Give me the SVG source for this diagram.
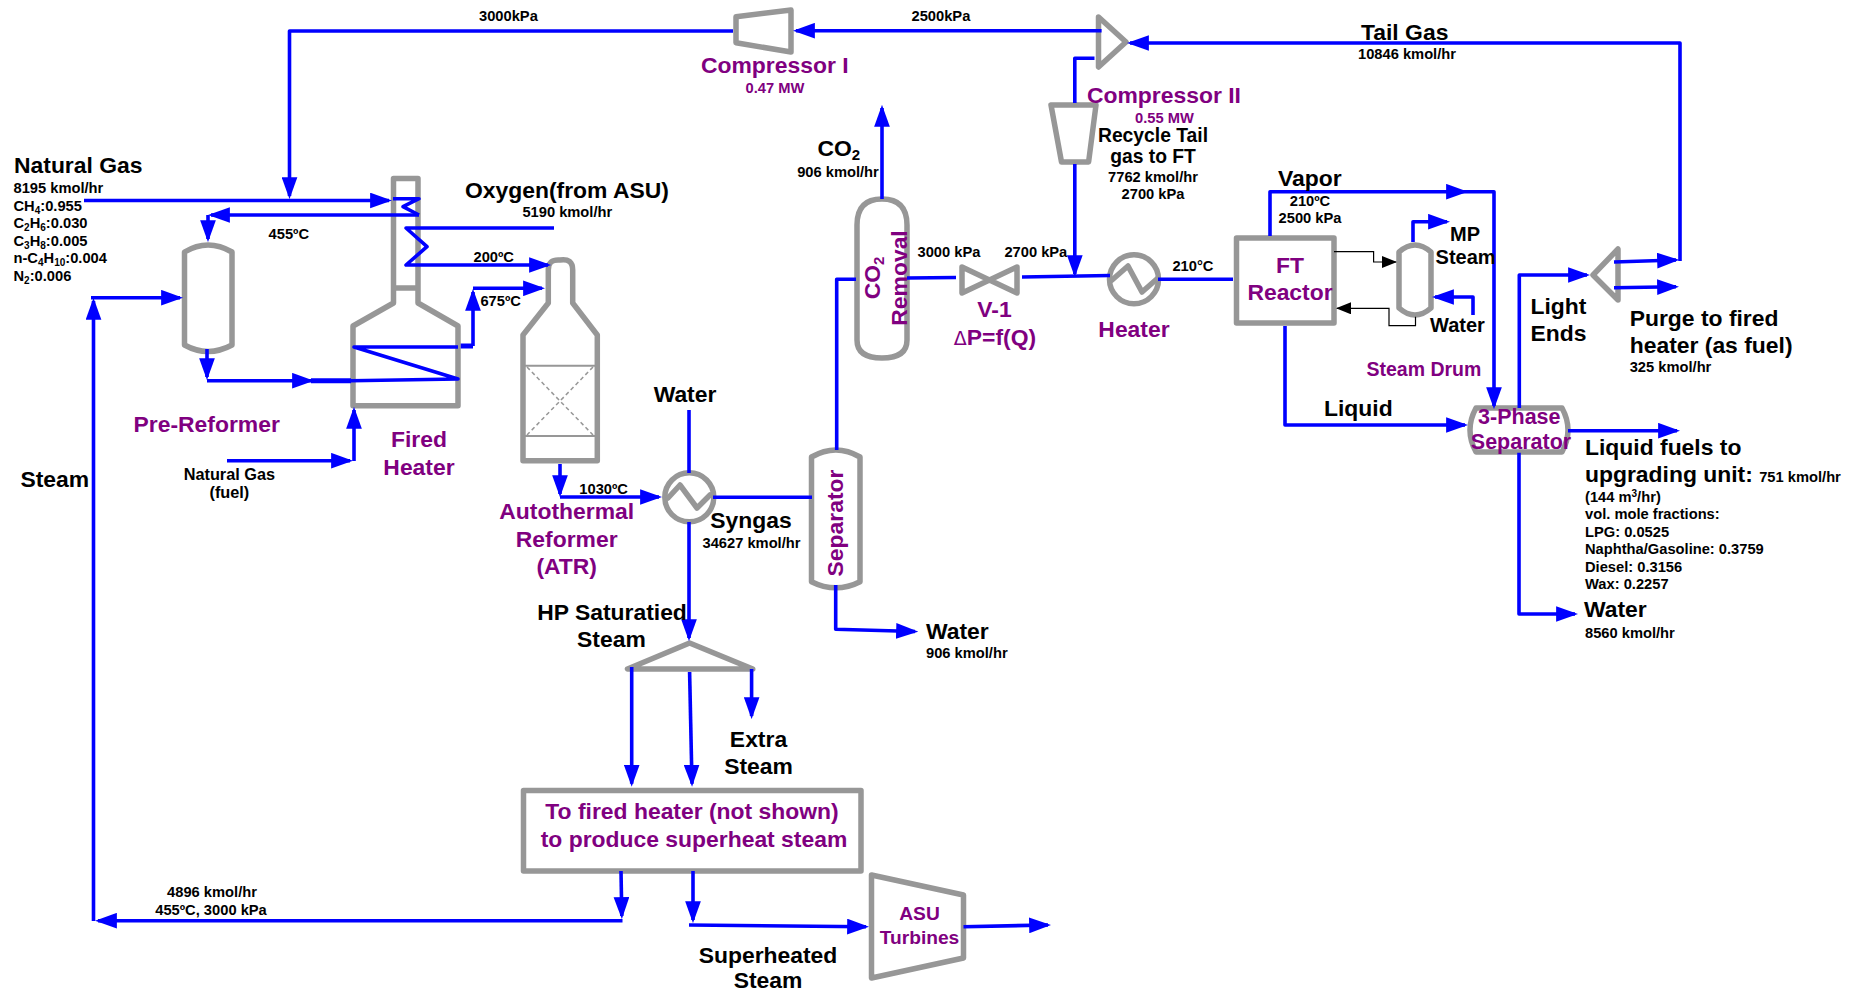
<svg xmlns="http://www.w3.org/2000/svg" width="1856" height="992" viewBox="0 0 1856 992">
<style>
text{font-family:"Liberation Sans",Arial,sans-serif;font-weight:700;fill:#000}
.b{font-size:22.9px}.s{font-size:14.7px}.m{font-size:16.3px}.r{font-size:19.3px}
.p{fill:#800080}.c{text-anchor:middle}
.e{fill:none;stroke:#979797;stroke-width:5.5;stroke-linejoin:round;stroke-linecap:round}
.t{fill:none;stroke:#979797;stroke-width:2}
.d{fill:none;stroke:#979797;stroke-width:1.5;stroke-dasharray:4 3}
.l{fill:none;stroke:#00f;stroke-width:3.6;stroke-linejoin:round}
.a{marker-end:url(#h)}
.k{fill:none;stroke:#000;stroke-width:1.2;marker-end:url(#hk)}
</style>
<defs>
<marker id="h" markerUnits="userSpaceOnUse" markerWidth="22" markerHeight="16" viewBox="0 0 21 15" refX="18" refY="7.5" orient="auto"><path d="M0,0L21,7.5L0,15Z" fill="#00f"/></marker>
<marker id="hk" markerUnits="userSpaceOnUse" markerWidth="15" markerHeight="12" viewBox="0 0 15 12" refX="14" refY="6" orient="auto"><path d="M0,0L15,6L0,12Z" fill="#000"/></marker>
</defs>
<rect width="1856" height="992" fill="#fff"/>

<g id="compressor-1"><path class="e" d="M736,16.7L791,10V52L736,42.7Z"/><text class="b p" x="701" y="72.7">Compressor I</text><text class="s p c" x="775" y="92.7">0.47 MW</text></g>
<g id="mixer"><path class="e" d="M1098.5,17L1126,42L1098.5,67Z"/></g>
<g id="compressor-2"><path class="e" d="M1051,105H1096L1088.6,162H1061.5Z"/><text class="b p" x="1087" y="103.3">Compressor II</text><text class="s p c" x="1164.5" y="123.3">0.55 MW</text></g>
<g id="pre-reformer"><path class="e" d="M184.500,252Q208,238 232,252V345Q208,358 184.500,345Z"/><text class="b p" x="133.500" y="431.700">Pre-Reformer</text></g>
<g id="fired-heater"><path class="e" d="M393.500,288V178.500H418V288ZM393.500,288V303L353,326V405.700H458V326L418,303V288"/><text class="b p c" x="419" y="447">Fired</text><text class="b p c" x="419" y="475">Heater</text></g>
<g id="atr"><path class="e" d="M548.300,303V270Q548,259 560,260Q572.700,258 572.700,270V303L597.300,335V460.700H523V335Z"/><path class="t" d="M525,365.700H595M525,436H595"/><path class="d" d="M527,367L593,435M593,367L527,435"/><text class="b p c" x="566.700" y="519">Autothermal</text><text class="b p c" x="566.700" y="546.700">Reformer</text><text class="b p c" x="566.700" y="574">(ATR)</text></g>
<g id="quench-exchanger"><circle class="e" cx="689.300" cy="497.300" r="24.500"/><path class="e" d="M668,498L680,485L697,508L710,495"/></g>
<g id="separator"><path class="e" d="M811.500,457Q836,443 860,457V581.700Q836,594 811.500,581.700Z"/><text class="b p c" transform="translate(843,523) rotate(-90)">Separator</text></g>
<g id="co2-removal"><path class="e" d="M857,225Q857,199 882,199Q907,199 907,225V340Q907,358 882,358Q857,358 857,340Z"/><text class="b p c" transform="translate(880,278) rotate(-90)">CO<tspan font-size="15" dy="4">2</tspan></text><text class="b p c" transform="translate(907,278) rotate(-90)">Removal</text></g>
<g id="valve"><path class="e" d="M962,267L1017,293V267L962,293Z"/><text class="b p c" x="994.500" y="316.700">V-1</text><text class="b p c" x="995" y="345"><tspan font-family="'DejaVu Sans',sans-serif" font-weight="400" font-size="19">Δ</tspan>P=f(Q)</text></g>
<g id="heater"><circle class="e" cx="1134" cy="279.300" r="24.500"/><path class="e" d="M1112,280L1128,266L1142,292L1158,278"/><text class="b p c" x="1134" y="336.700">Heater</text></g>
<g id="ft-reactor"><rect class="e" x="1236.500" y="238" width="97.500" height="85"/><text class="b p c" x="1290" y="273.300">FT</text><text class="b p c" x="1290" y="300">Reactor</text></g>
<g id="steam-drum"><path class="e" d="M1399,252Q1415,238 1431,252V308Q1415,322 1399,308Z"/><text class="p" font-size="19.500" x="1366.500" y="376">Steam Drum</text></g>
<g id="three-phase"><path class="e" d="M1476,408H1562Q1574,430 1562,452H1476Q1464,430 1476,408Z"/><text class="p c" font-size="21.500" x="1519.300" y="424">3-Phase</text><text class="p c" font-size="21.500" x="1521" y="449.300">Separator</text></g>
<g id="splitter-top"><path class="e" d="M1593,275L1618,249V300Z"/></g>
<g id="splitter-bottom"><path class="e" d="M689.600,643L627.500,669H752.800Z"/></g>
<g id="steam-box"><rect class="e" x="523.500" y="790.500" width="337.500" height="80.500"/><text class="b p c" x="692" y="819">To fired heater (not shown)</text><text class="b p c" x="694" y="847.300">to produce superheat steam</text></g>
<g id="asu-turbines"><path class="e" d="M871.500,875L963.500,895V958L871.500,978Z"/><text class="p c" font-size="19.200" x="919.500" y="920">ASU</text><text class="p c" font-size="19.200" x="919.500" y="944">Turbines</text></g>

<g id="connectors">
<path class="l a" d="M733,31H289.500V196"/>
<path class="l a" d="M84,200.500H389"/>
<path class="l" d="M393,198.700H419L403,206.700L419,215"/>
<path class="l a" d="M419,215H211"/>
<path class="l a" d="M208,215V239"/>
<path class="l a" d="M554,228H406L427,246.700L406,265H548"/>
<path class="l a" d="M622.500,920.700H98"/>
<path class="l a" d="M93.500,921V301"/>
<path class="l a" d="M91,297.700H180"/>
<path class="l a" d="M207,349V377"/>
<path class="l a" d="M207,380.700H311"/>
<path class="l" style="stroke-width:5" d="M311,380.700H351"/>
<path class="l" d="M351,380.700L458,379L354,347H458"/>
<path class="l" style="stroke-width:5" d="M460.700,346H473"/>
<path class="l a" d="M473,346V292"/>
<path class="l a" d="M473,288.300H542"/>
<path class="l a" d="M227,460.700H350"/>
<path class="l a" d="M354,461V410"/>
<path class="l a" d="M560,464V494"/>
<path class="l a" d="M560,497H659"/>
<path class="l" d="M689,410V473"/>
<path class="l a" d="M689,522V638"/>
<path class="l" d="M713,497.300H812"/>
<path class="l" d="M836.700,450V279.300H856"/>
<path class="l a" d="M835.700,585V629.300L915,631.500"/>
<path class="l a" d="M882,199V108"/>
<path class="l" d="M907,278L956,277.500"/>
<path class="l" d="M1022,277L1110,275.500"/>
<path class="l a" d="M1101.600,30.700H796"/>
<path class="l" d="M1094.500,58.300H1074.800V103"/>
<path class="l a" d="M1074.800,164V274"/>
<path class="l" d="M1158,279.300H1233"/>
<path class="l a" d="M1614,262L1676,260"/>
<path class="l a" d="M1680,261V43H1130"/>
<path class="l a" d="M1614,287.700L1676,286.800"/>
<path class="l a" d="M1519.300,408V275H1587"/>
<path class="l a" d="M1568,430.700H1677"/>
<path class="l a" d="M1519,452.700V614H1575"/>
<path class="l a" d="M1270,236V191.700H1465"/>
<path class="l a" d="M1465,191.700H1494V406"/>
<path class="l a" d="M1285,326V425H1465"/>
<path class="l a" d="M1413,242V221.700H1447"/>
<path class="l a" d="M1473,315V297H1435"/>
<path class="k" d="M1334,251.700H1373.600V262H1396"/>
<path class="k" d="M1415.500,316.700V325.700H1389V308.300H1337"/>
<path class="l a" d="M631.700,667V783.700"/>
<path class="l a" d="M689.600,672L692,783.700"/>
<path class="l a" d="M751.600,669V716"/>
<path class="l a" d="M621,871L621.800,916"/>
<path class="l a" d="M693,871V920"/>
<path class="l a" d="M689,925L866,926.700"/>
<path class="l a" d="M963.500,926.700L1048,925"/>
</g>

<g id="labels">
<text class="b" x="14" y="173">Natural Gas</text>
<text class="s" x="13.500" y="193">8195 kmol/hr</text>
<text class="s" x="13.500" y="210.700">CH<tspan font-size="10" dy="3">4</tspan><tspan dy="-3">:0.955</tspan></text>
<text class="s" x="13.500" y="228">C<tspan font-size="10" dy="3">2</tspan><tspan dy="-3">H</tspan><tspan font-size="10" dy="3">6</tspan><tspan dy="-3">:0.030</tspan></text>
<text class="s" x="13.500" y="245.700">C<tspan font-size="10" dy="3">3</tspan><tspan dy="-3">H</tspan><tspan font-size="10" dy="3">8</tspan><tspan dy="-3">:0.005</tspan></text>
<text class="s" x="13.500" y="263">n-C<tspan font-size="10" dy="3">4</tspan><tspan dy="-3">H</tspan><tspan font-size="10" dy="3">10</tspan><tspan dy="-3">:0.004</tspan></text>
<text class="s" x="13.500" y="280.700">N<tspan font-size="10" dy="3">2</tspan><tspan dy="-3">:0.006</tspan></text>
<text class="b" x="465" y="197.700">Oxygen(from ASU)</text>
<text class="s" x="522.400" y="217">5190 kmol/hr</text>
<text class="s" x="268.600" y="239">455ºC</text>
<text class="s" x="473.500" y="261.700">200ºC</text>
<text class="s" x="480.400" y="305.700">675ºC</text>
<text class="b" x="20.400" y="486.700">Steam</text>
<text class="m c" x="229.400" y="480">Natural Gas</text>
<text class="m c" x="229.400" y="498">(fuel)</text>
<text class="s" x="579.300" y="494">1030ºC</text>
<text class="b c" x="685" y="402.300">Water</text>
<text class="b c" x="751" y="528">Syngas</text>
<text class="s c" x="751.500" y="548">34627 kmol/hr</text>
<text class="b c" x="612" y="620">HP Saturatied</text>
<text class="b c" x="611.400" y="646.700">Steam</text>
<text class="b c" x="758.500" y="746.700">Extra</text>
<text class="b c" x="758.500" y="774">Steam</text>
<text class="b c" x="768" y="963.300">Superheated</text>
<text class="b c" x="768" y="987.700">Steam</text>
<text class="s c" x="212" y="897">4896 kmol/hr</text>
<text class="s c" x="211" y="914.500">455ºC, 3000 kPa</text>
<text class="b" x="926" y="639">Water</text>
<text class="s" x="926" y="658.300">906 kmol/hr</text>
<text class="s" x="479" y="21">3000kPa</text>
<text class="s" x="911.500" y="20.700">2500kPa</text>
<text class="r c" x="1153" y="141.500">Recycle Tail</text>
<text class="r c" x="1153" y="163.300">gas to FT</text>
<text class="s c" x="1153" y="182.300">7762 kmol/hr</text>
<text class="s c" x="1153" y="199.300">2700 kPa</text>
<text class="b c" x="838.800" y="156">CO<tspan font-size="15" dy="4">2</tspan></text>
<text class="s c" x="838" y="176.700">906 kmol/hr</text>
<text class="s" x="917.500" y="257.300">3000 kPa</text>
<text class="s" x="1004.400" y="257.300">2700 kPa</text>
<text class="s" x="1172.400" y="270.700">210°C</text>
<text class="b" x="1361" y="40">Tail Gas</text>
<text class="s" x="1358" y="59">10846 kmol/hr</text>
<text class="b" x="1278" y="186">Vapor</text>
<text class="s c" x="1310" y="206">210ºC</text>
<text class="s c" x="1310" y="223.300">2500 kPa</text>
<text font-size="20" class="c" x="1465" y="241">MP</text>
<text font-size="20" x="1435.600" y="264">Steam</text>
<text font-size="20" x="1430" y="331.700">Water</text>
<text class="b" x="1324" y="416">Liquid</text>
<text class="b" x="1530.500" y="314.300">Light</text>
<text class="b" x="1530.500" y="341">Ends</text>
<text class="b" x="1629.700" y="325.700">Purge to fired</text>
<text class="b" x="1629.700" y="352.700">heater (as fuel)</text>
<text class="s" x="1629.700" y="372.300">325 kmol/hr</text>
<text class="b" x="1585" y="455">Liquid fuels to</text>
<text class="b" x="1585" y="481.700">upgrading unit: <tspan font-size="14.700">751 kmol/hr</tspan></text>
<text class="s" x="1585" y="502.300">(144 m<tspan font-size="10" dy="-5">3</tspan><tspan dy="5">/hr)</tspan></text>
<text class="s" x="1585" y="519">vol. mole fractions:</text>
<text class="s" x="1585" y="536.700">LPG: 0.0525</text>
<text class="s" x="1585" y="554">Naphtha/Gasoline: 0.3759</text>
<text class="s" x="1585" y="571.700">Diesel: 0.3156</text>
<text class="s" x="1585" y="589">Wax: 0.2257</text>
<text class="b" x="1584" y="617.300">Water</text>
<text class="s" x="1585" y="638.300">8560 kmol/hr</text>
</g>
</svg>
